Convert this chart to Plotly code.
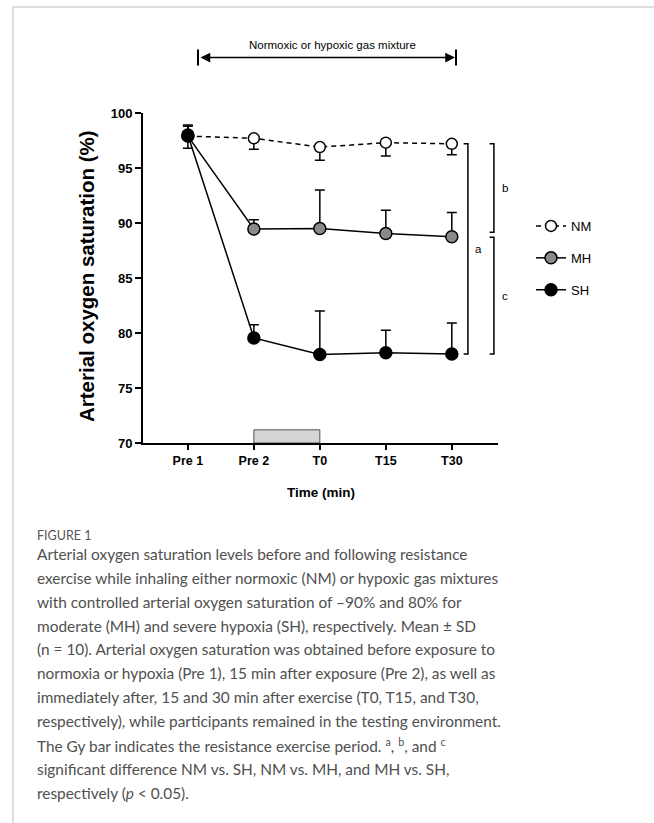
import plotly.graph_objects as go

# ---------------- data ----------------
categories = ["Pre 1", "Pre 2", "T0", "T15", "T30"]
nm_mean = [97.9, 97.7, 96.9, 97.3, 97.2]
nm_sd = [1.1, 1.0, 1.2, 1.2, 1.0]
mh_mean = [97.9, 89.45, 89.5, 89.05, 88.75]
mh_sd = [0.9, 0.85, 3.5, 2.1, 2.2]
sh_mean = [98.0, 79.55, 78.05, 78.2, 78.1]
sh_sd = [0.9, 1.2, 3.95, 2.05, 2.8]
series_names = ["NM", "MH", "SH"]
y_ticks = [70, 75, 80, 85, 90, 95, 100]
exercise_period = ("Pre 2", "T0")
exercise_bar_height = 1.2

caption_title = "FIGURE 1"
caption_lines = [
    "Arterial oxygen saturation levels before and following resistance",
    "exercise while inhaling either normoxic (NM) or hypoxic gas mixtures",
    "with controlled arterial oxygen saturation of \u201390% and 80% for",
    "moderate (MH) and severe hypoxia (SH), respectively. Mean \u00b1 SD",
    "(n = 10). Arterial oxygen saturation was obtained before exposure to",
    "normoxia or hypoxia (Pre 1), 15 min after exposure (Pre 2), as well as",
    "immediately after, 15 and 30 min after exercise (T0, T15, and T30,",
    "respectively), while participants remained in the testing environment.",
    "The Gy bar indicates the resistance exercise period. <sup>a</sup>, <sup>b</sup>, and <sup>c</sup>",
    "significant difference NM vs. SH, NM vs. MH, and MH vs. SH,",
    "respectively (<i>p</i> < 0.05).",
]

# ---------------- layout geometry ----------------
W, H = 654, 823
ML, MR, MT, MB = 143, 156, 113, 380
PW = W - ML - MR
PH = H - MT - MB
XR = [-0.68, 4.70]
YR = [y_ticks[0], y_ticks[-1]]


def px_x(p):  # pixel -> paper x
    return (p - ML) / PW


def px_y(p):  # pixel -> paper y
    return (H - MB - p) / PH


def dx_paper(v):  # data x -> paper x
    return (v - XR[0]) / (XR[1] - XR[0])


def dy_paper(v):  # data y -> paper y
    return (v - YR[0]) / (YR[1] - YR[0])


FONT = "Liberation Sans, Arial, sans-serif"
x = list(range(len(categories)))

fig = go.Figure()

# NM: open circles, dashed line, lower SD
fig.add_trace(go.Scatter(
    x=x, y=nm_mean, name=series_names[0], mode="lines+markers",
    line=dict(color="black", width=1.5, dash="5px,4px"),
    marker=dict(symbol="circle", size=11, color="white", line=dict(color="black", width=1.5)),
    error_y=dict(type="data", symmetric=False, array=[0] * len(nm_sd), arrayminus=nm_sd,
                 color="black", thickness=1.5, width=5),
    legendgroup="nm",
))
# MH: gray circles, upper SD
fig.add_trace(go.Scatter(
    x=x, y=mh_mean, name=series_names[1], mode="lines+markers",
    line=dict(color="black", width=1.5),
    marker=dict(symbol="circle", size=12, color="#8a8a8a", line=dict(color="black", width=1.5)),
    error_y=dict(type="data", symmetric=False, array=mh_sd, arrayminus=[0] * len(mh_sd),
                 color="black", thickness=1.5, width=5),
    legendgroup="mh",
))
# SH: black circles, upper SD
fig.add_trace(go.Scatter(
    x=x, y=sh_mean, name=series_names[2], mode="lines+markers",
    line=dict(color="black", width=1.5),
    marker=dict(symbol="circle", size=12, color="black", line=dict(color="black", width=1.5)),
    error_y=dict(type="data", symmetric=False, array=sh_sd, arrayminus=[0] * len(sh_sd),
                 color="black", thickness=1.5, width=5),
    legendgroup="sh",
))

shapes = []
annotations = []

# exercise bar
shapes.append(dict(type="rect", xref="x", yref="y",
                   x0=categories.index(exercise_period[0]), x1=categories.index(exercise_period[1]),
                   y0=y_ticks[0], y1=y_ticks[0] + exercise_bar_height,
                   fillcolor="#d4d4d4", line=dict(color="#555555", width=1), layer="below"))

# significance brackets (drawn in paper coords derived from data values)
tick = 0.065


def bracket(xc, y0, y1, label, lx):
    px0, px1 = dx_paper(xc - tick), dx_paper(xc)
    py0, py1 = dy_paper(y0), dy_paper(y1)
    shapes.append(dict(type="path", xref="paper", yref="paper",
                       path=f"M {px0},{py0} L {px1},{py0} L {px1},{py1} L {px0},{py1}",
                       line=dict(color="black", width=1.5)))
    annotations.append(dict(x=dx_paper(lx), y=(py0 + py1) / 2, xref="paper", yref="paper",
                            text=label, showarrow=False,
                            font=dict(family=FONT, size=11.5, color="black"),
                            xanchor="center", yanchor="middle"))


bracket(4.244, nm_mean[-1], sh_mean[-1], "a", 4.40)
bracket(4.638, nm_mean[-1], mh_mean[-1] + 0.4, "b", 4.81)
bracket(4.638, mh_mean[-1] - 0.05, sh_mean[-1], "c", 4.81)

# gas mixture arrow
ay = px_y(57.5)
xa0, xa1 = px_x(198), px_x(456)
annotations.append(dict(x=xa1, y=ay, ax=-(456 - 198), ay=0, xref="paper", yref="paper",
                        axref="pixel", ayref="pixel", text="", showarrow=True,
                        arrowhead=2, startarrowhead=2, arrowside="end+start",
                        arrowsize=1.3, startarrowsize=1.3, arrowwidth=1.5, arrowcolor="black",
                        standoff=1, startstandoff=1))
for xv in (xa0, xa1):
    shapes.append(dict(type="line", xref="paper", yref="paper", x0=xv, x1=xv,
                       y0=px_y(49.5), y1=px_y(65.5), line=dict(color="black", width=2)))
annotations.append(dict(x=px_x(332), y=px_y(45.5), xref="paper", yref="paper",
                        text="Normoxic or hypoxic gas mixture", showarrow=False,
                        font=dict(family=FONT, size=11.5, color="black"),
                        xanchor="center", yanchor="middle"))

# y-axis title
annotations.append(dict(x=px_x(86), y=px_y(276), xref="paper", yref="paper",
                        text="<b>Arterial oxygen saturation (%)</b>", textangle=-90,
                        showarrow=False, font=dict(family=FONT, size=20.5, color="black"),
                        xanchor="center", yanchor="middle"))
# x-axis title
annotations.append(dict(x=px_x(321), y=px_y(492.5), xref="paper", yref="paper",
                        text="<b>Time (min)</b>", showarrow=False,
                        font=dict(family=FONT, size=13.5, color="black"),
                        xanchor="center", yanchor="middle"))

# panel border (top and left)
shapes.append(dict(type="line", xref="paper", yref="paper", x0=px_x(13), x1=px_x(654),
                   y0=px_y(7), y1=px_y(7), line=dict(color="#d2d2d2", width=1.5)))
shapes.append(dict(type="line", xref="paper", yref="paper", x0=px_x(13), x1=px_x(13),
                   y0=px_y(7), y1=px_y(823), line=dict(color="#d2d2d2", width=1.5)))

# caption
CAP_FONT = "Lato, Open Sans, sans-serif"
annotations.append(dict(x=px_x(35), y=px_y(535), xref="paper", yref="paper",
                        text=caption_title, showarrow=False,
                        font=dict(family=CAP_FONT, size=12.5, color="#555555"),
                        xanchor="left", yanchor="middle"))
for i, line in enumerate(caption_lines):
    annotations.append(dict(x=px_x(35), y=px_y(554 + 23.85 * i), xref="paper", yref="paper",
                            text=line, showarrow=False,
                            font=dict(family=CAP_FONT, size=15.4, color="#505050"),
                            xanchor="left", yanchor="middle"))

fig.update_layout(
    width=W, height=H,
    margin=dict(l=ML, r=MR, t=MT, b=MB, autoexpand=False),
    plot_bgcolor="white", paper_bgcolor="white",
    shapes=shapes, annotations=annotations,
    showlegend=True,
    legend=dict(x=px_x(531), y=px_y(211), xanchor="left", yanchor="top",
                font=dict(family=FONT, size=13, color="black"),
                tracegroupgap=12, itemwidth=30, bgcolor="rgba(0,0,0,0)"),
    xaxis=dict(range=XR, tickmode="array", tickvals=x,
               ticktext=[f"<b>{c}</b>" for c in categories],
               showline=True, linecolor="black", linewidth=2,
               ticks="outside", ticklen=5, tickwidth=2, tickcolor="black",
               showgrid=False, zeroline=False,
               tickfont=dict(family=FONT, size=12.5, color="black")),
    yaxis=dict(range=YR, tickmode="array", tickvals=y_ticks,
               ticktext=[f"<b>{v}</b>" for v in y_ticks],
               showline=True, linecolor="black", linewidth=2,
               ticks="outside", ticklen=6, tickwidth=2, tickcolor="black",
               showgrid=False, zeroline=False,
               tickfont=dict(family=FONT, size=13, color="black")),
)

fig.write_html("out.html")
